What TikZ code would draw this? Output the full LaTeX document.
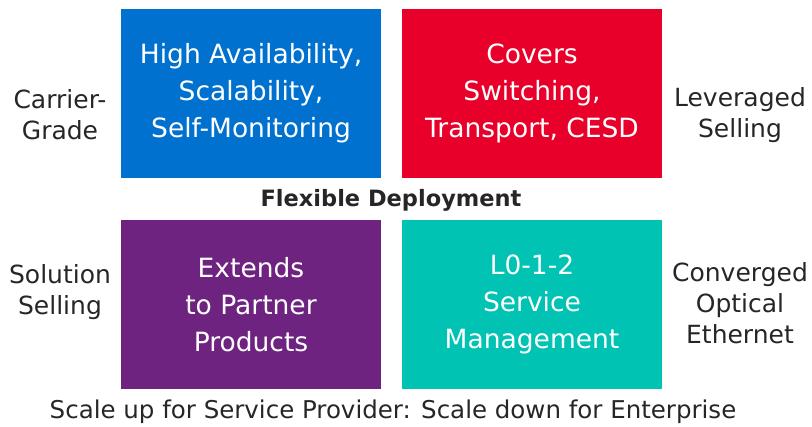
\documentclass[tikz,border=0pt]{standalone}
\usepackage{fontspec}
\setmainfont{DejaVu Sans}
\usetikzlibrary{positioning}
\definecolor{cblue}{HTML}{0071CE}
\definecolor{cred}{HTML}{E8002A}
\definecolor{cpurple}{HTML}{6E2380}
\definecolor{cteal}{HTML}{00C3B3}
\tikzset{
  quad/.style={minimum width=260pt, minimum height=169pt, inner sep=0pt, text=white,
    align=center, font=\fontsize{26.5}{37}\selectfont},
  side/.style={align=center, text=black!85, font=\fontsize{25}{31}\selectfont},
  caption/.style={text=black!85, font=\bfseries\fontsize{22.5}{25}\selectfont}
}
\begin{document}
\begin{tikzpicture}[x=1pt, y=-1pt]
    \useasboundingbox (0, 0) rectangle (812, 427);
    % the four quadrants
    \node[quad, fill=cblue] (avail) at (251, 93.5) {High Availability,\\Scalability,\\Self-Monitoring};
    \node[quad, fill=cred] (covers) at (532, 93.5) {Covers\\Switching,\\Transport, CESD};
    \node[quad, fill=cpurple] (extends) at (251, 304.5) {Extends\\to Partner\\Products};
    \node[quad, fill=cteal] (service) at (532, 304.5) {L0-1-2\\Service\\Management};
    % labels round them
    \node[side] (carrier) at (60, 115) {Carrier-\\Grade};
    \node[side] (leveraged) at (740, 115) {Leveraged\\Selling};
    \node[side] (solution) at (60, 292) {Solution\\Selling};
    \node[side] (converged) at (740, 303) {Converged\\Optical\\Ethernet};
    \node[caption] (flexible) at (391, 200) {Flexible Deployment};
    \node[caption, font=\fontsize{24.5}{25}\selectfont] (scale) at (393, 412) {Scale up for Service Provider: Scale down for Enterprise};
\end{tikzpicture}
\end{document}
